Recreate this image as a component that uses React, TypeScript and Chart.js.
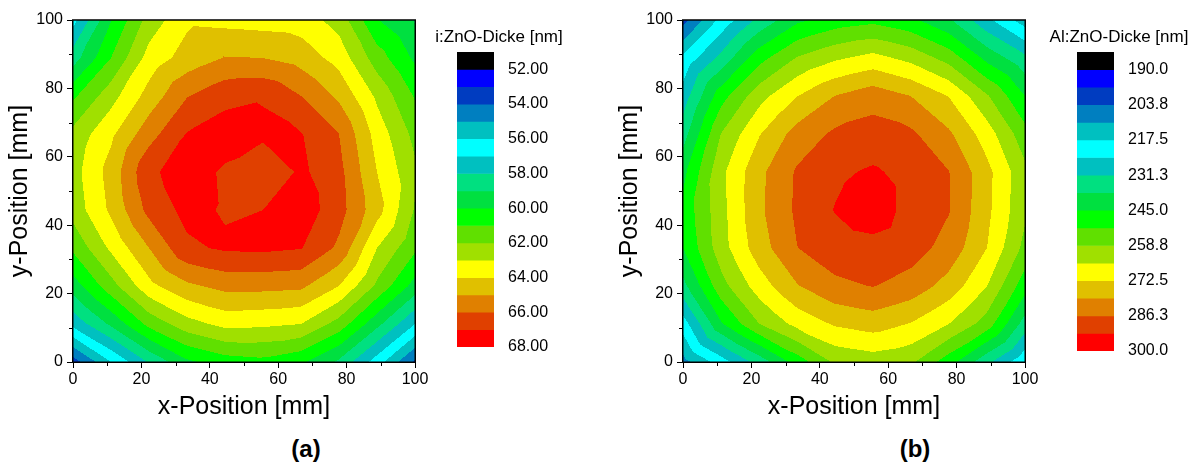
import React, { useEffect, useRef } from 'react';
import { Chart, registerables } from 'chart.js';
Chart.register(...registerables);

const FONT = "'Liberation Sans', Arial, Helvetica, sans-serif";

// measurement grid positions (mm)
const GRID_X = [0, 11.11, 22.22, 33.33, 44.44, 55.56, 66.67, 77.78, 88.89, 100];
// rows below are listed from top (y = 100) to bottom (y = 0)
const GRID_Y = [100, 88.89, 77.78, 66.67, 55.56, 44.44, 33.33, 22.22, 11.11, 0];

// (a) i:ZnO thickness [nm]
const IZNO_THICKNESS = [
  [56.65, 59.95, 62.4, 63.8, 63.7, 63.6, 63.5, 62.6, 60.05, 58.9],
  [58.5, 61.0, 63.4, 64.4, 65.05, 65.0, 64.6, 63.6, 61.5, 59.8],
  [60.8, 62.6, 64.4, 65.95, 66.7, 66.9, 66.0, 64.8, 62.8, 60.9],
  [62.3, 63.8, 65.6, 67.05, 67.5, 67.25, 67.05, 66.0, 63.6, 61.7],
  [62.6, 64.4, 66.8, 67.5, 66.85, 66.1, 67.2, 66.3, 64.0, 62.2],
  [62.4, 64.2, 66.3, 67.3, 66.9, 67.0, 67.6, 66.4, 64.4, 61.9],
  [61.2, 63.2, 65.0, 66.8, 67.15, 67.2, 67.05, 65.8, 63.0, 61.2],
  [59.5, 61.6, 63.7, 64.8, 65.3, 65.3, 65.2, 64.0, 61.8, 59.6],
  [57.3, 59.2, 61.3, 62.6, 63.3, 63.2, 63.0, 61.6, 59.3, 57.0],
  [53.5, 56.0, 58.1, 59.8, 60.5, 60.7, 60.2, 58.8, 56.5, 53.8],
];

// (b) Al:ZnO thickness [nm]
const ALZNO_THICKNESS = [
  [201.0, 219.5, 233.0, 243.5, 248.0, 250.0, 246.5, 239.0, 226.0, 214.0],
  [219.0, 233.3, 249.3, 259.2, 264.5, 267.9, 263.5, 256.0, 243.0, 233.0],
  [227.5, 249.1, 263.0, 272.3, 279.5, 283.5, 279.3, 272.2, 259.5, 245.0],
  [235.0, 258.9, 272.0, 282.1, 287.5, 289.1, 287.5, 280.5, 269.0, 254.5],
  [243.0, 263.9, 277.6, 287.1, 291.9, 294.0, 291.0, 286.4, 274.6, 260.5],
  [247.0, 263.3, 278.0, 287.5, 293.4, 296.5, 291.0, 286.6, 274.2, 260.0],
  [245.0, 262.6, 276.2, 286.1, 290.2, 291.2, 289.3, 283.7, 272.5, 256.7],
  [236.0, 256.1, 269.0, 278.9, 284.7, 286.5, 283.5, 276.6, 265.7, 248.0],
  [221.0, 244.1, 258.6, 267.7, 273.3, 275.6, 272.1, 265.6, 255.6, 235.0],
  [208.0, 221.0, 234.0, 248.0, 260.0, 262.0, 260.0, 248.0, 233.0, 219.0],
];

const BAND_COLORS = [
  '#000000', '#0000FF', '#003CC0', '#007FC0', '#00C0C0', '#00FFFF', '#00C0C0', '#00E080', '#00E040',
  '#00FF00', '#60E000', '#A0E000', '#FFFF00', '#E0C000', '#E08000', '#E04000', '#FF0000',
];

const IZNO_LEVELS = [51, 52, 53, 54, 55, 56, 57, 58, 59, 60, 61, 62, 63, 64, 65, 66, 67, 68];
const ALZNO_LEVELS = [
  183.125, 190, 196.875, 203.75, 210.625, 217.5, 224.375, 231.25, 238.125, 245, 251.875, 258.75,
  265.625, 272.5, 279.375, 286.25, 293.125, 300,
];

const IZNO_BAR_TICKS = [52, 54, 56, 58, 60, 62, 64, 66, 68];
const IZNO_BAR_LABELS = ['52.00', '54.00', '56.00', '58.00', '60.00', '62.00', '64.00', '66.00', '68.00'];
const ALZNO_BAR_TICKS = [190, 203.75, 217.5, 231.25, 245, 258.75, 272.5, 286.25, 300];
const ALZNO_BAR_LABELS = ['190.0', '203.8', '217.5', '231.3', '245.0', '258.8', '272.5', '286.3', '300.0'];

const AXIS_TICKS = [0, 20, 40, 60, 80, 100];
const MINOR_TICKS = [10, 30, 50, 70, 90];

function hexToRgb(h: string) {
  return [parseInt(h.slice(1, 3), 16), parseInt(h.slice(3, 5), 16), parseInt(h.slice(5, 7), 16)];
}

// linear interpolation on triangles; each cell is split along the diagonal whose corner sum is larger
function sample(grid: number[][], x: number, y: number) {
  let i = 0;
  while (i < GRID_X.length - 2 && x > GRID_X[i + 1]) i++;
  let r = 0;
  while (r < GRID_Y.length - 2 && y < GRID_Y[r + 1]) r++;
  const u = Math.min(1, Math.max(0, (x - GRID_X[i]) / (GRID_X[i + 1] - GRID_X[i])));
  const v = Math.min(1, Math.max(0, (y - GRID_Y[r + 1]) / (GRID_Y[r] - GRID_Y[r + 1])));
  const z00 = grid[r + 1][i];
  const z10 = grid[r + 1][i + 1];
  const z01 = grid[r][i];
  const z11 = grid[r][i + 1];
  if (z00 + z11 >= z10 + z01) {
    if (u >= v) return z00 + u * (z10 - z00) + v * (z11 - z10);
    return z00 + v * (z01 - z00) + u * (z11 - z01);
  }
  if (u + v <= 1) return z00 + u * (z10 - z00) + v * (z01 - z00);
  return z11 + (1 - u) * (z01 - z11) + (1 - v) * (z10 - z11);
}

function contourPlugin(grid: number[][], levels: number[]) {
  return {
    id: 'contourFill',
    beforeDraw(chart: any) {
      const { ctx, chartArea: ca, scales } = chart;
      const x0 = Math.round(ca.left);
      const y0 = Math.round(ca.top);
      const w = Math.round(ca.right) - x0;
      const h = Math.round(ca.bottom) - y0;
      const off = document.createElement('canvas');
      off.width = w;
      off.height = h;
      const octx = off.getContext('2d') as CanvasRenderingContext2D;
      const img = octx.createImageData(w, h);
      const rgb = BAND_COLORS.map(hexToRgb);
      const xv: number[] = [];
      for (let px = 0; px < w; px++) xv.push(scales.x.getValueForPixel(x0 + px + 0.5));
      for (let py = 0; py < h; py++) {
        const yv = scales.y.getValueForPixel(y0 + py + 0.5);
        for (let px = 0; px < w; px++) {
          const z = sample(grid, xv[px], yv);
          let k = 0;
          while (k < levels.length - 2 && z >= levels[k + 1]) k++;
          const c = rgb[k];
          const o = (py * w + px) * 4;
          img.data[o] = c[0];
          img.data[o + 1] = c[1];
          img.data[o + 2] = c[2];
          img.data[o + 3] = 255;
        }
      }
      octx.putImageData(img, 0, 0);
      ctx.drawImage(off, x0, y0);
    },
  };
}

const framePlugin = {
  id: 'frameMinor',
  afterDraw(chart: any) {
    const { ctx, chartArea: ca, scales } = chart;
    ctx.save();
    ctx.strokeStyle = '#000';
    ctx.lineWidth = 1.5;
    ctx.strokeRect(ca.left - 0.25, ca.top, ca.right - ca.left + 0.5, ca.bottom - ca.top + 0.25);
    ctx.lineWidth = 1;
    ctx.beginPath();
    for (const v of MINOR_TICKS) {
      const x = Math.round(scales.x.getPixelForValue(v)) + 0.5;
      ctx.moveTo(x, ca.bottom);
      ctx.lineTo(x, ca.bottom + 4);
      const y = Math.round(scales.y.getPixelForValue(v)) + 0.5;
      ctx.moveTo(ca.left, y);
      ctx.lineTo(ca.left - 4, y);
    }
    ctx.stroke();
    ctx.restore();
  },
};

function axisOpts(isX: boolean, title: string) {
  return {
    type: 'linear',
    min: 0,
    max: 100,
    afterBuildTicks: (s: any) => {
      s.ticks = AXIS_TICKS.map((v) => ({ value: v }));
    },
    ticks: {
      color: '#000',
      font: { family: FONT, size: 16 },
      padding: isX ? 2 : 4,
      maxRotation: 0,
      autoSkip: false,
    },
    grid: { drawOnChartArea: false, drawTicks: true, tickLength: 6, tickColor: '#000', tickWidth: 1 },
    border: { display: false },
    title: {
      display: true,
      text: title,
      color: '#000',
      font: { family: FONT, size: 25 },
      padding: isX ? { top: 0, bottom: 8 } : { top: 5, bottom: 0 },
    },
    afterFit: (s: any) => {
      if (isX) s.height = 68;
      else s.width = 73;
    },
  };
}

function makeContour(canvas: HTMLCanvasElement, grid: number[][], levels: number[]) {
  const pts: { x: number; y: number }[] = [];
  GRID_Y.forEach((y) => GRID_X.forEach((x) => pts.push({ x, y })));
  return new Chart(canvas, {
    type: 'scatter',
    data: { datasets: [{ data: pts, pointRadius: 0, pointHoverRadius: 0 }] },
    options: {
      animation: false,
      responsive: false,
      events: [],
      layout: { padding: { left: 0, right: 25, top: 20, bottom: 0 } },
      plugins: { legend: { display: false }, tooltip: { enabled: false }, title: { display: false } },
      scales: {
        x: axisOpts(true, 'x-Position [mm]') as any,
        y: axisOpts(false, 'y-Position [mm]') as any,
      },
    },
    plugins: [contourPlugin(grid, levels), framePlugin],
  } as any);
}

function makeColorBar(
  canvas: HTMLCanvasElement,
  title: string,
  levels: number[],
  ticks: number[],
  labels: string[],
  bottomPad: number
) {
  const datasets = levels.slice(0, -1).map((lo, k) => ({
    data: [[lo, levels[k + 1]]],
    backgroundColor: BAND_COLORS[k],
    borderWidth: 0,
    barPercentage: 1,
    categoryPercentage: 1,
    grouped: false,
    xAxisID: 'x',
    yAxisID: 'y',
  }));
  return new Chart(canvas, {
    type: 'bar',
    data: { labels: [''], datasets },
    options: {
      animation: false,
      responsive: false,
      events: [],
      layout: { padding: { left: 0, right: 0, top: 0, bottom: bottomPad } },
      plugins: {
        legend: { display: false },
        tooltip: { enabled: false },
        title: {
          display: true,
          text: title,
          color: '#000',
          font: { family: FONT, size: 17, weight: 'normal' },
          padding: { top: 27, bottom: 4.6 },
        },
      },
      scales: {
        x: { display: false },
        y: {
          type: 'linear',
          position: 'right',
          reverse: true,
          min: levels[0],
          max: levels[levels.length - 1],
          afterBuildTicks: (s: any) => {
            s.ticks = ticks.map((v) => ({ value: v }));
          },
          ticks: {
            color: '#000',
            font: { family: FONT, size: 16 },
            padding: 6,
            autoSkip: false,
            callback: (_v: any, i: number) => labels[i],
          },
          grid: { display: false },
          border: { display: false },
          afterFit: (s: any) => {
            s.width = 150 - 70;
          },
        },
        spacer: {
          type: 'linear',
          position: 'left',
          display: true,
          grid: { display: false },
          border: { display: false },
          ticks: { display: false },
          afterFit: (s: any) => {
            s.width = 33;
          },
        },
      },
    },
  } as any);
}

export default function App() {
  const aRef = useRef<HTMLCanvasElement>(null);
  const aBarRef = useRef<HTMLCanvasElement>(null);
  const bRef = useRef<HTMLCanvasElement>(null);
  const bBarRef = useRef<HTMLCanvasElement>(null);

  useEffect(() => {
    const charts = [
      makeContour(aRef.current!, IZNO_THICKNESS, IZNO_LEVELS),
      makeColorBar(aBarRef.current!, 'i:ZnO-Dicke [nm]', IZNO_LEVELS, IZNO_BAR_TICKS, IZNO_BAR_LABELS, 23),
      makeContour(bRef.current!, ALZNO_THICKNESS, ALZNO_LEVELS),
      makeColorBar(bBarRef.current!, 'Al:ZnO-Dicke [nm]', ALZNO_LEVELS, ALZNO_BAR_TICKS, ALZNO_BAR_LABELS, 19),
    ];
    return () => charts.forEach((c) => c.destroy());
  }, []);

  const abs = (left: number, top: number): React.CSSProperties => ({ position: 'absolute', left, top });
  const label: React.CSSProperties = {
    position: 'absolute',
    width: 100,
    textAlign: 'center',
    fontFamily: FONT,
    fontWeight: 'bold',
    fontSize: 24,
    lineHeight: '24px',
    color: '#000',
    top: 437,
  };

  return (
    <div style={{ position: 'absolute', left: 0, top: 0, width: 1197, height: 466, background: '#fff', overflow: 'hidden' }}>
      <canvas ref={aRef} width={440} height={430} style={abs(0, 0)} />
      <canvas ref={aBarRef} width={150} height={370} style={abs(424, 0)} />
      <canvas ref={bRef} width={440} height={430} style={abs(610, 0)} />
      <canvas ref={bBarRef} width={150} height={370} style={abs(1044, 0)} />
      <div style={{ ...label, left: 256 }}>(a)</div>
      <div style={{ ...label, left: 865 }}>(b)</div>
    </div>
  );
}
